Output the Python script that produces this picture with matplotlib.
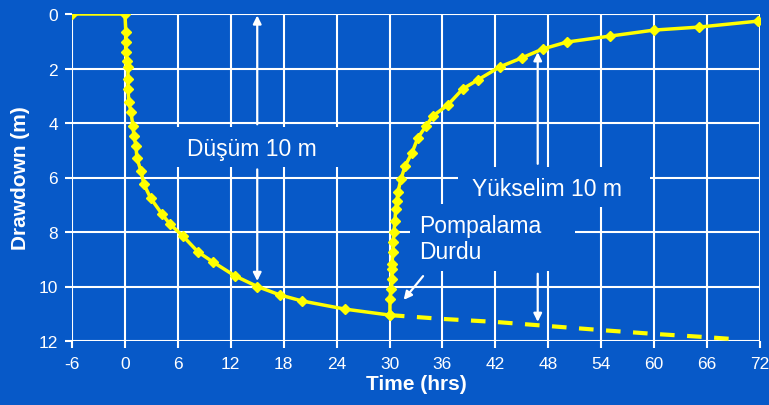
import matplotlib
matplotlib.use("Agg")
import matplotlib.pyplot as plt
from matplotlib.patches import Rectangle

plt.rcParams['font.family'] = ['Liberation Sans', 'DejaVu Sans']
plt.rcParams['axes.unicode_minus'] = False

BG = '#0759C8'
YEL = '#FFFF00'
WHITE = '#FFFFFF'

# Pumping phase (time in hrs, drawdown in m)
pump_t = [-6, 0, 0.11, 0.11, 0.11, 0.23, 0.34, 0.34, 0.34, 0.45, 0.68, 0.91,
          1.02, 1.25, 1.36, 1.81, 2.15, 2.9, 4.2, 5.1, 6.58, 8.28, 9.98,
          12.47, 15.0, 17.57, 20.07, 24.94, 30.04]
pump_d = [0, 0, 0.66, 1.03, 1.39, 1.72, 1.94, 2.39, 2.75, 3.23, 3.6, 4.11,
          4.48, 4.84, 5.28, 5.76, 6.24, 6.75, 7.34, 7.71, 8.15, 8.73, 9.1,
          9.61, 10.0, 10.31, 10.53, 10.83, 11.05]

# Recovery after pump shut-off
rec_t = [30.04, 30.05, 30.16, 30.27, 30.27, 30.27, 30.39, 30.39, 30.5, 30.6,
         30.7, 30.84, 30.95, 31.3, 31.75, 32.54, 33.2, 34.13, 34.92, 36.6,
         38.3, 40.0, 42.5, 45.0, 47.4, 50.1, 55.0, 60.0, 65.1, 71.8]
rec_d = [11.05, 10.46, 10.09, 9.72, 9.36, 9.17, 8.73, 8.37, 8.0, 7.6,
         7.16, 6.86, 6.53, 6.06, 5.58, 5.10, 4.55, 4.11, 3.74, 3.34,
         2.75, 2.42, 1.94, 1.61, 1.28, 1.03, 0.81, 0.59, 0.48, 0.26]

# Extrapolated drawdown had pumping continued
ext_t = [30.04, 36, 42, 48, 54, 60, 66, 69]
ext_d = [11.05, 11.19, 11.30, 11.45, 11.60, 11.74, 11.86, 11.93]

x_ticks = list(range(-6, 73, 6))
y_ticks = list(range(0, 13, 2))

fig = plt.figure(figsize=(7.69, 4.06), dpi=100, facecolor=BG)
ax = fig.add_axes([72 / 769, 1 - 342 / 406, (760 - 72) / 769, (342 - 15) / 406])
ax.set_facecolor(BG)

ax.set_xlim(-6, 72)
ax.set_ylim(12, 0)
ax.set_xticks(x_ticks)
ax.set_yticks(y_ticks)
ax.set_xticklabels([str(v) for v in x_ticks])
ax.set_yticklabels([str(v) for v in y_ticks])
ax.grid(True, color=WHITE, lw=1.5, zorder=0)
ax.set_axisbelow(True)
for s in ax.spines.values():
    s.set_visible(False)
ax.tick_params(axis='both', colors=WHITE, width=1.5, length=5, labelsize=12.5)
ax.tick_params(axis='x', pad=6)
ax.tick_params(axis='y', pad=5)

ax.set_xlabel('Time (hrs)', color=WHITE, fontsize=15, fontweight='bold', labelpad=2)
ax.set_ylabel('Drawdown (m)', color=WHITE, fontsize=15, fontweight='bold', labelpad=6)

# Background panels behind the labels (they hide the grid)
for (x0, x1, y0, y1) in [(4.5, 24.9, 4.15, 5.6),
                         (37.8, 59.5, 5.6, 7.08),
                         (32.3, 51.0, 6.97, 9.43)]:
    ax.add_patch(Rectangle((x0, y0), x1 - x0, y1 - y0, facecolor=BG,
                           edgecolor='none', zorder=1))

ax.plot(ext_t, ext_d, color=YEL, lw=3, ls=(0, (3.5, 3)), zorder=3)
ax.plot(pump_t, pump_d, color=YEL, lw=2.5, marker='D', ms=5.5, zorder=4)
ax.plot(rec_t, rec_d, color=YEL, lw=2.5, marker='D', ms=5.5, zorder=4)

txt = dict(color=WHITE, fontsize=16.5, zorder=5)
ax.text(14.4, 4.95, 'Düşüm 10 m', ha='center', va='center', **txt)
ax.text(47.8, 6.42, 'Yükselim 10 m', ha='center', va='center', **txt)
ax.text(33.3, 8.24, 'Pompalama\nDurdu', ha='left', va='center',
        linespacing=1.2, **txt)

arr = dict(arrowstyle='-|>', color=WHITE, lw=1.6, mutation_scale=12)
ax.annotate('', xy=(15, -0.05), xytext=(15, 4.15), arrowprops=arr,
            annotation_clip=False, zorder=5)
ax.annotate('', xy=(15, 9.9), xytext=(15, 5.6), arrowprops=arr, zorder=5)
ax.annotate('', xy=(46.8, 1.3), xytext=(46.8, 5.6), arrowprops=arr, zorder=5)
ax.annotate('', xy=(46.8, 11.4), xytext=(46.8, 9.43), arrowprops=arr, zorder=5)
ax.annotate('', xy=(31.4, 10.57), xytext=(34.0, 9.54), arrowprops=arr, zorder=5)

fig.savefig('out.png', dpi=100, facecolor=BG)
